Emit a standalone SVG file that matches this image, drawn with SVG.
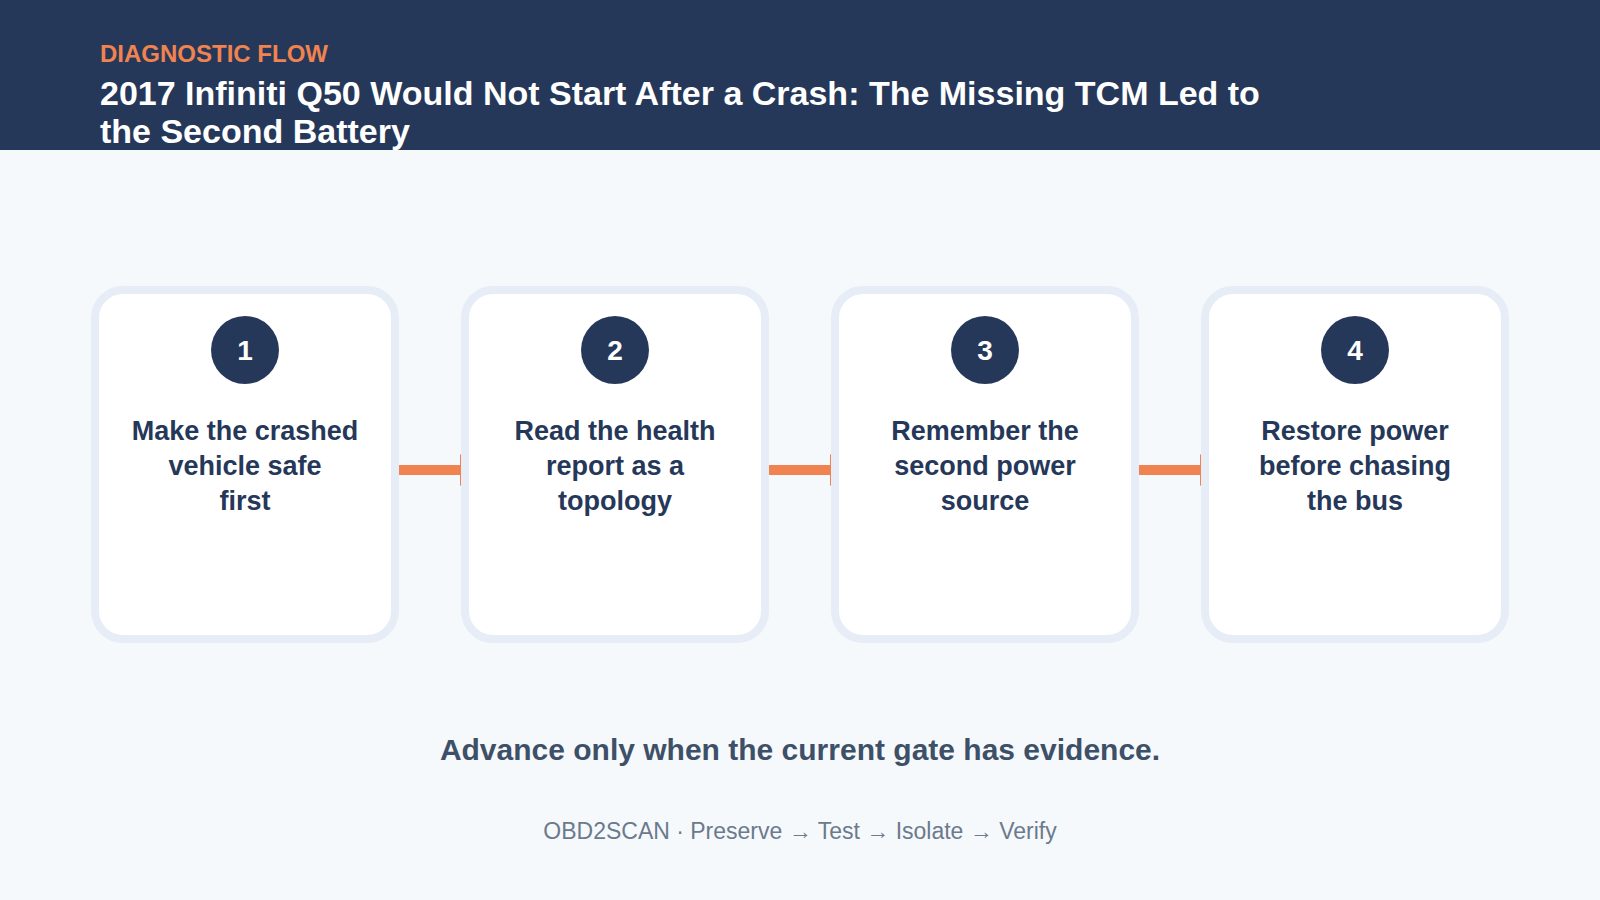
<svg xmlns="http://www.w3.org/2000/svg" width="1600" height="900" viewBox="0 0 1600 900">
<defs>
<style>
.card{fill:#ffffff;stroke:#e6edf7;stroke-width:8}
.badge{fill:#263859}
.num{font-family:"Liberation Sans",Arial,sans-serif;font-weight:bold;font-size:28px;fill:#ffffff;text-anchor:middle}
.lbl{font-family:"Liberation Sans",Arial,sans-serif;font-weight:bold;font-size:27px;fill:#263859;text-anchor:middle}
.conn{stroke:#f0834f;stroke-width:10;fill:none}
</style>
<marker id="arr" markerUnits="userSpaceOnUse" viewBox="0 0 20 32" refX="0" refY="16" markerWidth="20" markerHeight="32" orient="auto">
<path d="M0,0 L20,16 L0,32 z" fill="#f0834f"/>
</marker>
</defs>
<rect x="0" y="0" width="1600" height="900" fill="#f6f9fc"/>
<g id="header">
<rect x="0" y="0" width="1600" height="150" fill="#263859"/>
<text x="100" y="62" font-family="Liberation Sans, Arial, sans-serif" font-weight="bold" font-size="24" fill="#f0834f">DIAGNOSTIC FLOW</text>
<text font-family="Liberation Sans, Arial, sans-serif" font-weight="bold" font-size="34" fill="#ffffff"><tspan x="100" y="105">2017 Infiniti Q50 Would Not Start After a Crash: The Missing TCM Led to</tspan><tspan x="100" y="143">the Second Battery</tspan></text>
</g>
<g id="connectors">
<line class="conn" x1="399" y1="470" x2="460" y2="470" marker-end="url(#arr)"/>
<line class="conn" x1="769" y1="470" x2="830" y2="470" marker-end="url(#arr)"/>
<line class="conn" x1="1139" y1="470" x2="1200" y2="470" marker-end="url(#arr)"/>
</g>
<g id="step1">
<rect class="card" x="95" y="290" width="300" height="349" rx="28"/>
<circle class="badge" cx="245" cy="350" r="34"/>
<text class="num" x="245" y="360">1</text>
<text class="lbl"><tspan x="245" y="440">Make the crashed</tspan><tspan x="245" y="475">vehicle safe</tspan><tspan x="245" y="510">first</tspan></text>
</g>
<g id="step2">
<rect class="card" x="465" y="290" width="300" height="349" rx="28"/>
<circle class="badge" cx="615" cy="350" r="34"/>
<text class="num" x="615" y="360">2</text>
<text class="lbl"><tspan x="615" y="440">Read the health</tspan><tspan x="615" y="475">report as a</tspan><tspan x="615" y="510">topology</tspan></text>
</g>
<g id="step3">
<rect class="card" x="835" y="290" width="300" height="349" rx="28"/>
<circle class="badge" cx="985" cy="350" r="34"/>
<text class="num" x="985" y="360">3</text>
<text class="lbl"><tspan x="985" y="440">Remember the</tspan><tspan x="985" y="475">second power</tspan><tspan x="985" y="510">source</tspan></text>
</g>
<g id="step4">
<rect class="card" x="1205" y="290" width="300" height="349" rx="28"/>
<circle class="badge" cx="1355" cy="350" r="34"/>
<text class="num" x="1355" y="360">4</text>
<text class="lbl"><tspan x="1355" y="440">Restore power</tspan><tspan x="1355" y="475">before chasing</tspan><tspan x="1355" y="510">the bus</tspan></text>
</g>
<g id="footer">
<text x="800" y="760" font-family="Liberation Sans, Arial, sans-serif" font-weight="bold" font-size="30" fill="#3d5068" text-anchor="middle">Advance only when the current gate has evidence.</text>
<text x="800" y="839" font-family="Liberation Sans, Arial, sans-serif" font-size="23" fill="#6b7a8d" text-anchor="middle">OBD2SCAN · Preserve → Test → Isolate → Verify</text>
</g>
</svg>
